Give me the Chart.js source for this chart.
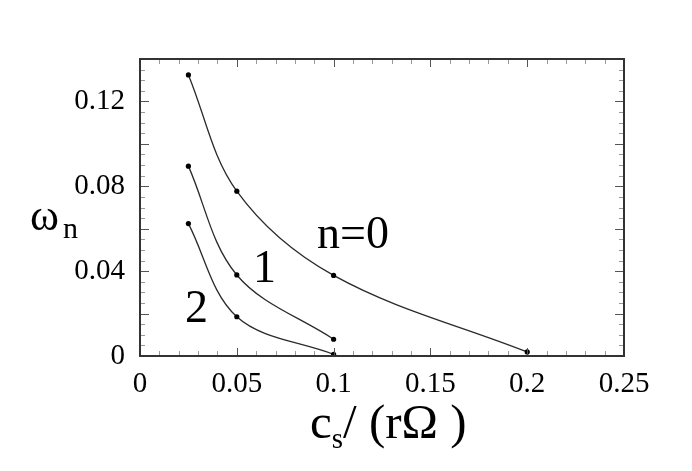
<!DOCTYPE html>
<html>
<head>
<meta charset="utf-8">
<script src="https://cdn.jsdelivr.net/npm/chart.js@4/dist/chart.umd.min.js"></script>
<style>
  html, body { margin: 0; padding: 0; background: #fff; }
  canvas { display: block; }
</style>
</head>
<body>
<canvas id="grafico" width="692" height="471"></canvas>
<script>
// datos
const n0X = [0.025, 0.05, 0.1, 0.2];
const n0Y = [0.1325, 0.0777, 0.038, 0.0019];
const n1X = [0.025, 0.05, 0.1];
const n1Y = [0.0895, 0.0382, 0.0079];
const n2X = [0.025, 0.05, 0.1];
const n2Y = [0.0624, 0.0185, 0.0008];
const curveLabels = ['n=0', '1', '2'];
const xTickLabels = ['0', '0.05', '0.1', '0.15', '0.2', '0.25'];
const yTickLabels = ['0', '0.04', '0.08', '0.12'];

const serif = "'Liberation Serif', 'Times New Roman', serif";

function puntos(xs, ys) {
    return ys.map((y, i) => ({ x: xs[i], y: y }));
}

function serie(xs, ys) {
    return {
        data: puntos(xs, ys),
        borderColor: '#2a2a2a',
        borderWidth: 1.3,
        pointRadius: 2.6,
        pointBackgroundColor: '#000',
        pointBorderWidth: 0,
        tension: 0.35,
        fill: false
    };
}

// marcas hacia adentro en los cuatro lados + marco
const marcas = {
    id: 'marcas',
    afterDatasetsDraw(chart) {
        const ctx = chart.ctx;
        const a = chart.chartArea;
        const sx = chart.scales.x, sy = chart.scales.y;
        ctx.save();
        ctx.lineWidth = 1;
        sx.ticks.forEach(t => {
            const p = Math.round(sx.getPixelForValue(t.value)) + 0.5;
            const mayor = Math.round(t.value * 100) % 5 === 0;
            const l = mayor ? 8 : 5;
            ctx.strokeStyle = mayor ? '#555' : '#999';
            ctx.beginPath();
            ctx.moveTo(p, a.bottom); ctx.lineTo(p, a.bottom - l);
            ctx.moveTo(p, a.top); ctx.lineTo(p, a.top + l);
            ctx.stroke();
        });
        sy.ticks.forEach(t => {
            const p = Math.round(sy.getPixelForValue(t.value)) + 0.5;
            const mayor = Math.round(t.value * 1000) % 20 === 0;
            const l = mayor ? 9 : 5;
            ctx.strokeStyle = mayor ? '#555' : '#999';
            ctx.beginPath();
            ctx.moveTo(a.left, p); ctx.lineTo(a.left + l, p);
            ctx.moveTo(a.right, p); ctx.lineTo(a.right - l, p);
            ctx.stroke();
        });
        ctx.strokeStyle = '#333';
        ctx.lineWidth = 2;
        ctx.strokeRect(a.left, a.top, a.right - a.left, a.bottom - a.top);
        ctx.restore();
    }
};

// rotulos de las curvas y titulos de ejes
const textos = {
    id: 'textos',
    afterDraw(chart) {
        const ctx = chart.ctx;
        const sx = chart.scales.x, sy = chart.scales.y;
        ctx.save();
        ctx.fillStyle = '#000';
        ctx.textAlign = 'left';
        ctx.textBaseline = 'alphabetic';
        ctx.font = '46px ' + serif;
        const pos = [[0.0914, 0.0509], [0.0584, 0.0349], [0.0232, 0.016]];
        curveLabels.forEach((s, i) => {
            ctx.fillText(s, sx.getPixelForValue(pos[i][0]), sy.getPixelForValue(pos[i][1]));
        });

        // omega_n
        ctx.font = '44px ' + serif;
        ctx.fillText('ω', 30, 230);
        ctx.font = '30px ' + serif;
        ctx.fillText('n', 63, 238);

        // c_s/ (r Omega)
        let x = 310;
        ctx.font = '49px ' + serif;
        ctx.fillText('c', x, 438);
        x += ctx.measureText('c').width;
        ctx.font = '29px ' + serif;
        ctx.fillText('s', x, 448);
        x += ctx.measureText('s').width;
        ctx.font = '49px ' + serif;
        ctx.fillText('/ (rΩ )', x, 438);
        ctx.restore();
    }
};

new Chart(document.getElementById('grafico'), {
    type: 'line',
    data: {
        datasets: [serie(n0X, n0Y), serie(n1X, n1Y), serie(n2X, n2Y)]
    },
    options: {
        responsive: false,
        animation: false,
        devicePixelRatio: 1,
        layout: { padding: { left: 0, right: 68, top: 59, bottom: 0 } },
        plugins: {
            legend: { display: false },
            tooltip: { enabled: false }
        },
        scales: {
            x: {
                type: 'linear',
                min: 0,
                max: 0.25,
                grid: { display: false, drawTicks: false },
                border: { display: false },
                afterFit: s => { s.height = 115; },
                ticks: {
                    stepSize: 0.01,
                    autoSkip: false,
                    maxRotation: 0,
                    padding: 11,
                    color: '#000',
                    font: { family: serif, size: 29 },
                    callback: v => {
                        const s = String(Math.round(v * 100) / 100);
                        return xTickLabels.includes(s) ? s : '';
                    }
                }
            },
            y: {
                min: 0,
                max: 0.14,
                grid: { display: false, drawTicks: false },
                border: { display: false },
                afterFit: s => { s.width = 140; },
                ticks: {
                    stepSize: 0.005,
                    autoSkip: false,
                    padding: 15,
                    color: '#000',
                    font: { family: serif, size: 29 },
                    callback: v => {
                        const s = String(Math.round(v * 1000) / 1000);
                        return yTickLabels.includes(s) ? s : '';
                    }
                }
            }
        }
    },
    plugins: [marcas, textos]
});
</script>
</body>
</html>
